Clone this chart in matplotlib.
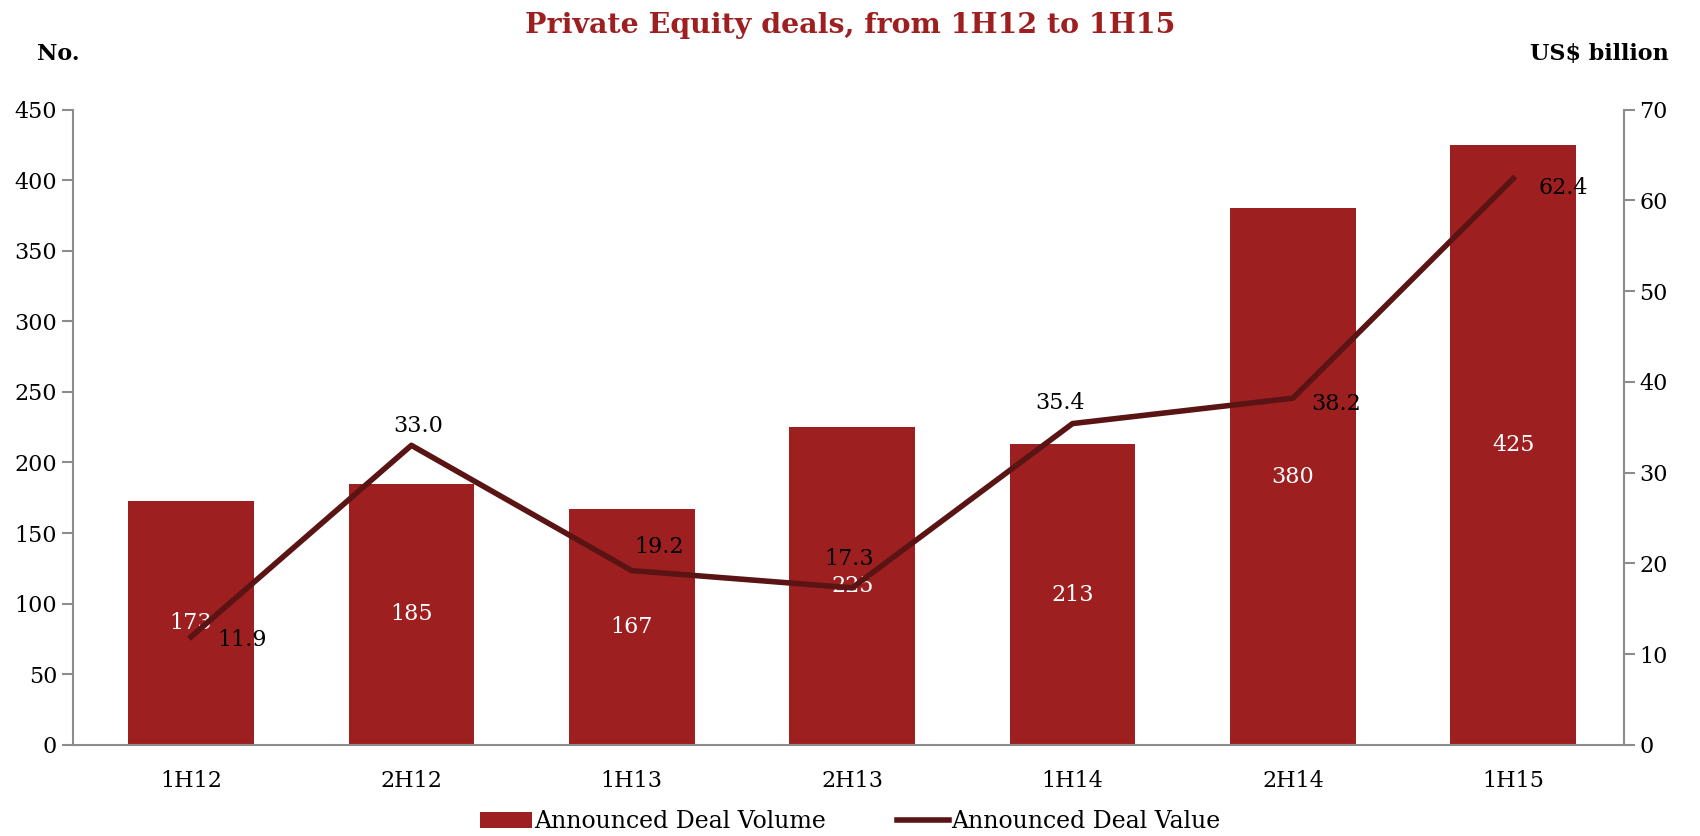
import numpy as np
import matplotlib.pyplot as plt

periods = ["1H12", "2H12", "1H13", "2H13", "1H14", "2H14", "1H15"]
deal_volume = [173, 185, 167, 225, 213, 380, 425]
deal_value = [11.9, 33.0, 19.2, 17.3, 35.4, 38.2, 62.4]

bar_color = "#9e1f20"
line_color = "#5a1414"
plt.rcParams['font.family'] = ['DejaVu Serif']

fig, ax = plt.subplots(figsize=(17, 8.36), dpi=100)
fig.subplots_adjust(left=0.043, right=0.955, top=0.869, bottom=0.109)
ax2 = ax.twinx()

x = np.arange(len(periods))
ax.bar(x, deal_volume, width=0.57, color=bar_color, label="Announced Deal Volume", zorder=2)
ax2.plot(x, deal_value, color=line_color, lw=4, label="Announced Deal Value", zorder=3)

for xi, v in zip(x, deal_volume):
    ax.text(xi, v / 2, str(v), color="white", ha="center", va="center", fontsize=16)

# value label offsets (points) relative to line vertices
offsets = [(37, -2), (5, 14), (20, 17), (-2, 21), (-9, 15), (31, -4), (36, -7)]
for xi, v, (dx, dy) in zip(x, deal_value, offsets):
    ax2.annotate(f"{v:.1f}", (xi, v), xytext=(dx, dy), textcoords="offset points",
                 ha="center", va="center", fontsize=16, color="black", zorder=4)

ax.set_xlim(-0.535, len(periods) - 0.5)
ax.set_ylim(0, 450)
ax.set_yticks(range(0, 451, 50))
ax2.set_ylim(0, 70)
ax2.set_yticks(range(0, 71, 10))
ax.set_xticks(x)
ax.set_xticklabels(periods)

for a in (ax, ax2):
    for s in a.spines.values():
        s.set_visible(False)
    a.tick_params(labelsize=16, colors="#8c8c8c", labelcolor="black", length=8, width=1.5)
ax.spines["left"].set_visible(True)
ax.spines["bottom"].set_visible(True)
ax2.spines["right"].set_visible(True)
for s in (ax.spines["left"], ax.spines["bottom"], ax2.spines["right"]):
    s.set_color("#8c8c8c")
    s.set_linewidth(1.5)
ax.tick_params(axis="x", length=0, pad=18)

fig.text(0.5, 0.97, "Private Equity deals, from 1H12 to 1H15", ha="center", va="center",
         fontsize=20.5, fontweight="bold", color=bar_color)
fig.text(0.034, 0.935, "No.", ha="center", va="center", fontsize=16, fontweight="bold")
fig.text(0.941, 0.935, "US$ billion", ha="center", va="center", fontsize=16, fontweight="bold")

h1, l1 = ax.get_legend_handles_labels()
h2, l2 = ax2.get_legend_handles_labels()
fig.legend(h1 + h2, l1 + l2, loc="lower center", bbox_to_anchor=(0.5, -0.022), ncol=2,
           frameon=False, fontsize=17, handlelength=2.2, handletextpad=0.1, columnspacing=3)

fig.savefig("out.png")
